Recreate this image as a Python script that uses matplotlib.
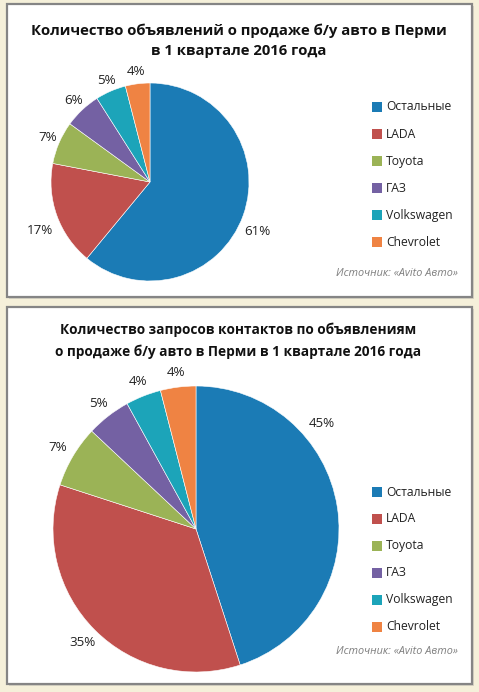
import numpy as np
import matplotlib.pyplot as plt
from matplotlib.patches import Rectangle

plt.rcParams['font.family'] = ['Open Sans', 'DejaVu Sans']

brands = ['Остальные', 'LADA', 'Toyota', 'ГАЗ', 'Volkswagen', 'Chevrolet']
colors = ['#1B7BB5', '#C0504D', '#9BB356', '#7461A3', '#1CA4B9', '#EF8343']

ads_share = [61, 17, 7, 6, 5, 4]
requests_share = [45, 35, 7, 5, 4, 4]

title_ads = 'Количество объявлений о продаже б/у авто в Перми\nв 1 квартале 2016 года'
title_requests = ('Количество запросов контактов по объявлениям\n'
                  'о продаже б/у авто в Перми в 1 квартале 2016 года')
source = 'Источник: «Avito Авто»'

W, H = 479, 692


def px_box(left, top, width, height):
    # pixel box (from top-left) -> figure fraction
    return [left / W, 1 - (top + height) / H, width / W, height / H]


def panel(fig, left, top, right, bottom):
    fig.patches.append(Rectangle((left / W + 1.5 / W, 1 - (bottom + 1.5) / H),
                                 (right - left) / W, (bottom - top) / H,
                                 transform=fig.transFigure, facecolor='#D8D4C4',
                                 edgecolor='none', zorder=-2))
    fig.patches.append(Rectangle((left / W, 1 - bottom / H),
                                 (right - left) / W, (bottom - top) / H,
                                 transform=fig.transFigure, facecolor='white',
                                 edgecolor='#858585', linewidth=1.6, zorder=-1))


def draw_pie(fig, box, values, label_dist, label_shift):
    ax = fig.add_axes(px_box(*box))
    ax.set_zorder(2)
    wedges, _ = ax.pie(values, colors=colors, startangle=90, counterclock=False,
                       wedgeprops=dict(edgecolor='white', linewidth=0.4))
    for i, w in enumerate(wedges):
        ang = np.deg2rad((w.theta1 + w.theta2) / 2 + label_shift[i])
        r = label_dist[i]
        ax.text(r * np.cos(ang), r * np.sin(ang), '%d%%' % values[i],
                ha='center', va='center', fontsize=9.6, color='#222222')
    ax.set_xlim(-1, 1)
    ax.set_ylim(-1, 1)
    ax.set_aspect('equal')
    ax.axis('off')
    return ax


def draw_legend(fig, x, y0, step):
    for i, name in enumerate(brands):
        y = y0 + i * step
        fig.patches.append(Rectangle((x / W, 1 - (y + 5) / H), 10 / W, 10 / H,
                                     transform=fig.transFigure, facecolor=colors[i],
                                     edgecolor='none', zorder=1))
        fig.text((x + 14) / W, 1 - y / H, name, ha='left', va='center',
                 fontsize=8.7, color='#222222')


fig = plt.figure(figsize=(W / 100, H / 100), dpi=100)
fig.patch.set_facecolor('#F5F0DA')

panel(fig, 7, 4, 472, 297)
panel(fig, 7, 307, 472, 684)

fig.text(239 / W, 1 - 41 / H, title_ads, ha='center', va='center', fontsize=10.7,
         fontweight='bold', color='#111111', linespacing=1.55)
fig.text(238 / W, 1 - 341 / H, title_requests, ha='center', va='center', fontsize=9.8,
         fontweight='bold', color='#111111', linespacing=1.7)

draw_pie(fig, (51, 83, 198, 198), ads_share,
         [1.2, 1.22, 1.13, 1.13, 1.12, 1.12], [-5, 4, 0, 0, 0, 0])
draw_pie(fig, (53, 386, 286, 286), requests_share,
         [1.15, 1.12, 1.12, 1.11, 1.11, 1.1], [31, 0, 0, 0, 0, 0])

draw_legend(fig, 372, 107, 27)
draw_legend(fig, 372, 492, 27)

fig.text(458 / W, 1 - 274 / H, source, ha='right', va='center', fontsize=7.8,
         style='italic', color='#7F7F7F')
fig.text(458 / W, 1 - 652 / H, source, ha='right', va='center', fontsize=7.8,
         style='italic', color='#7F7F7F')

fig.savefig('out.png', dpi=100, facecolor=fig.get_facecolor())
